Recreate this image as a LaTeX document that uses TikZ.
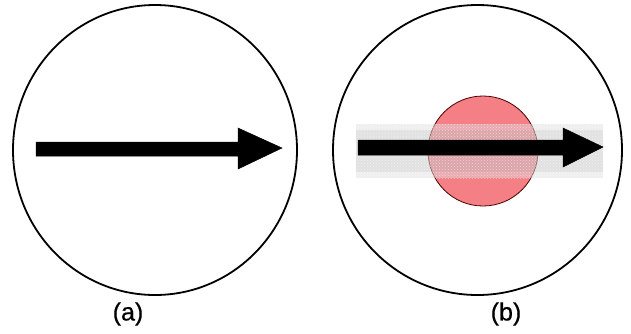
\documentclass[tikz,border=0pt]{standalone}
\usepackage{fontspec}
\setmainfont{Liberation Sans}
\newfontfamily\lblfont[FakeBold=0.6]{Liberation Sans}
\usetikzlibrary{patterns}
\definecolor{pinkdisk}{RGB}{244,128,134}
\tikzset{
  ring/.style={draw=black,line width=1.8pt},
  bigarrow/.style={fill=black,draw=black,line width=0.5pt,line join=miter},
  lbl/.style={font=\lblfont\fontsize{25}{30}\selectfont,inner sep=0pt},
}
\begin{document}
\begin{tikzpicture}[x=1pt,y=-1pt]
\useasboundingbox[fill=white] (0,0) rectangle (631,333);
% (a)
\draw[ring] (155,150) ellipse [x radius=142,y radius=145];
\fill[bigarrow] (36,142) -- (238,142) -- (238,128) -- (282,148) -- (238,169) -- (238,156) -- (36,156) -- cycle;
\node[lbl] (la) at (128,314) {(a)};
% (b)
\draw[ring] (477.5,150) ellipse [x radius=144.5,y radius=145];
\fill[pinkdisk,draw=black!70!red,line width=0.8pt] (483,151) circle [radius=55];
\fill[white,opacity=0.4] (356,124) rectangle (603,178);
\fill[gray,opacity=0.12] (356,124) rectangle (603,178);
\fill[gray,opacity=0.12] (356,130) rectangle (603,172);
\fill[pattern=crosshatch dots,pattern color=white,opacity=0.5] (356,124) rectangle (603,178);
\fill[bigarrow] (358,140) -- (563,140) -- (563,128) -- (603,147) -- (563,167) -- (563,155) -- (358,155) -- cycle;
\node[lbl] (lb) at (506,314) {(b)};
\end{tikzpicture}
\end{document}
